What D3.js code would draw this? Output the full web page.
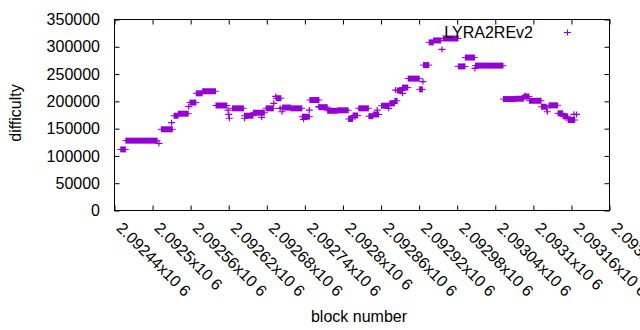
<!DOCTYPE html>
<html>
<head>
<meta charset="utf-8">
<script src="https://cdn.jsdelivr.net/npm/d3@7/dist/d3.min.js"></script>
<style>
  body { margin: 0; background: #fff; }
  text { font-family: "Liberation Sans", Arial, sans-serif; fill: #000; }
</style>
</head>
<body>
<div id="chart"></div>
<script>
// runs of blocks with the same difficulty: [first block, last block, difficulty]
const runs = [
  [2092450, 2092457, 111900],
  [2092458, 2092507, 128000],
  [2092514, 2092531, 148800],
  [2092534, 2092540, 173700],
  [2092541, 2092556, 177400],
  [2092559, 2092568, 197800],
  [2092569, 2092578, 214700],
  [2092579, 2092599, 218500],
  [2092600, 2092617, 192400],
  [2092626, 2092643, 187200],
  [2092645, 2092658, 173700],
  [2092659, 2092676, 179200],
  [2092679, 2092690, 187200],
  [2092695, 2092702, 205700],
  [2092705, 2092717, 188700],
  [2092718, 2092735, 187200],
  [2092736, 2092747, 171900],
  [2092748, 2092762, 202400],
  [2092763, 2092775, 189300],
  [2092776, 2092791, 182700],
  [2092792, 2092808, 183600],
  [2092809, 2092815, 167700],
  [2092816, 2092823, 174100],
  [2092825, 2092840, 187200],
  [2092841, 2092847, 172800],
  [2092848, 2092856, 175900],
  [2092861, 2092872, 192000],
  [2092874, 2092881, 196400],
  [2092882, 2092885, 201000],
  [2092886, 2092893, 219800],
  [2092894, 2092902, 225300],
  [2092903, 2092920, 241700],
  [2092921, 2092925, 222000],
  [2092927, 2092935, 266400],
  [2092936, 2092942, 308100],
  [2092943, 2092954, 311600],
  [2092958, 2092981, 315200],
  [2092982, 2092992, 264000],
  [2092993, 2093007, 280300],
  [2093009, 2093052, 265500],
  [2093053, 2093071, 204200],
  [2093072, 2093084, 204800],
  [2093085, 2093093, 208800],
  [2093094, 2093112, 201100],
  [2093113, 2093120, 190200],
  [2093125, 2093138, 192700],
  [2093139, 2093146, 178100],
  [2093147, 2093154, 172600],
  [2093155, 2093165, 165800]
];

// blocks that stand on their own: [block, difficulty]
const singles = [
  [2092510, 122900],
  [2092530, 160900],
  [2092557, 190200],
  [2092619, 184100],
  [2092620, 176000],
  [2092621, 169000],
  [2092645, 169000],
  [2092672, 170800],
  [2092691, 196400],
  [2092694, 209000],
  [2092701, 187200],
  [2092704, 181000],
  [2092738, 167000],
  [2092747, 184100],
  [2092762, 190200],
  [2092854, 184100],
  [2092872, 187200],
  [2092883, 220700],
  [2092894, 214700],
  [2092926, 236200],
  [2092956, 295100],
  [2093008, 260400],
  [2093087, 210500],
  [2093121, 187800],
  [2093122, 181000],
  [2093164, 176300],
  [2093168, 176000]
];

const xTicks = [2092440, 2092500, 2092560, 2092620, 2092680, 2092740, 2092800,
                2092860, 2092920, 2092980, 2093040, 2093100, 2093160, 2093220];
const xTickLabels = ["2.09244", "2.0925", "2.09256", "2.09262", "2.09268", "2.09274", "2.0928",
                     "2.09286", "2.09292", "2.09298", "2.09304", "2.0931", "2.09316", "2.09322"];
const yTicks = [0, 50000, 100000, 150000, 200000, 250000, 300000, 350000];
const seriesName = "LYRA2REv2";

const width = 640,
      height = 330;
const color = "#9400d3";
const plot = {left: 114.5, right: 609.5, top: 19.5, bottom: 210.5};
const fontSize = "16px";

const svg = d3.select("#chart")
  .append("svg")
    .attr("width", width)
    .attr("height", height);

// scales
const x = d3.scaleLinear()
  .domain([xTicks[0], xTicks[xTicks.length - 1]])
  .range([plot.left, plot.right]);
const y = d3.scaleLinear()
  .domain([0, 350000])
  .range([plot.bottom, plot.top]);

// plus mark half sizes
const hw = 3.5, hh = 3;
const plus = (px, py) => `M${px - hw},${py}H${px + hw}M${px},${py - hh}V${py + hh}`;

// axes, ticks drawn inward on both sides like gnuplot mirror tics
const axisB = d3.axisBottom(x).tickValues(xTicks).tickSize(-5).tickFormat("");
const axisT = d3.axisTop(x).tickValues(xTicks).tickSize(-5).tickFormat("");
const axisL = d3.axisLeft(y).tickValues(yTicks).tickSize(-5).tickFormat("");
const axisR = d3.axisRight(y).tickValues(yTicks).tickSize(-5).tickFormat("");

svg.append("g").attr("transform", `translate(0,${plot.bottom})`).call(axisB);
svg.append("g").attr("transform", `translate(0,${plot.top})`).call(axisT);
svg.append("g").attr("transform", `translate(${plot.left},0)`).call(axisL);
svg.append("g").attr("transform", `translate(${plot.right},0)`).call(axisR);
svg.selectAll(".domain").remove();
svg.selectAll(".tick line").attr("stroke", "#000");

// border
svg.append("rect")
  .attr("x", plot.left)
  .attr("y", plot.top)
  .attr("width", plot.right - plot.left)
  .attr("height", plot.bottom - plot.top)
  .attr("fill", "none")
  .attr("stroke", "#000")
  .attr("stroke-width", 1);

// y tick labels
svg.append("g")
  .selectAll("text")
  .data(yTicks)
  .join("text")
    .attr("x", 100)
    .attr("y", d => y(d))
    .attr("dy", "0.35em")
    .attr("text-anchor", "end")
    .style("font-size", fontSize)
    .text(d => d);

// x tick labels, rotated
svg.append("g")
  .selectAll("text")
  .data(xTicks)
  .join("text")
    .attr("transform", d => `translate(${x(d) + 1},229) rotate(45)`)
    .attr("text-anchor", "start")
    .style("font-size", fontSize)
    .text((d, i) => `${xTickLabels[i]}x10 6`);

// axis titles
svg.append("text")
  .attr("transform", "translate(21,113) rotate(-90)")
  .attr("text-anchor", "middle")
  .style("font-size", fontSize)
  .text("difficulty");

svg.append("text")
  .attr("x", 359)
  .attr("y", 322)
  .attr("text-anchor", "middle")
  .style("font-size", fontSize)
  .text("block number");

// data
const marks = svg.append("g");

// runs of equal difficulty: overlapping plus marks make a solid band
marks.selectAll(".run")
  .data(runs)
  .join("rect")
    .attr("class", "run")
    .attr("x", d => x(d[0]) - 0.6)
    .attr("y", d => y(d[2]) - hh)
    .attr("width", d => x(d[1]) - x(d[0]) + 1.2)
    .attr("height", hh * 2)
    .attr("fill", color);

marks.selectAll(".arm")
  .data(runs)
  .join("path")
    .attr("class", "arm")
    .attr("d", d => `M${x(d[0]) - hw},${y(d[2])}H${x(d[1]) + hw}`)
    .attr("stroke", color)
    .attr("stroke-width", 1)
    .attr("fill", "none");

marks.selectAll(".single")
  .data(singles)
  .join("path")
    .attr("class", "single")
    .attr("d", d => plus(x(d[0]), y(d[1])))
    .attr("stroke", color)
    .attr("stroke-width", 1.2)
    .attr("fill", "none");

// legend
svg.append("text")
  .attr("x", 533)
  .attr("y", 32)
  .attr("dy", "0.35em")
  .attr("text-anchor", "end")
  .style("font-size", fontSize)
  .text(seriesName);

svg.append("path")
  .attr("d", plus(567.5, 32.5))
  .attr("stroke", color)
  .attr("stroke-width", 1.2)
  .attr("fill", "none");
</script>
</body>
</html>
